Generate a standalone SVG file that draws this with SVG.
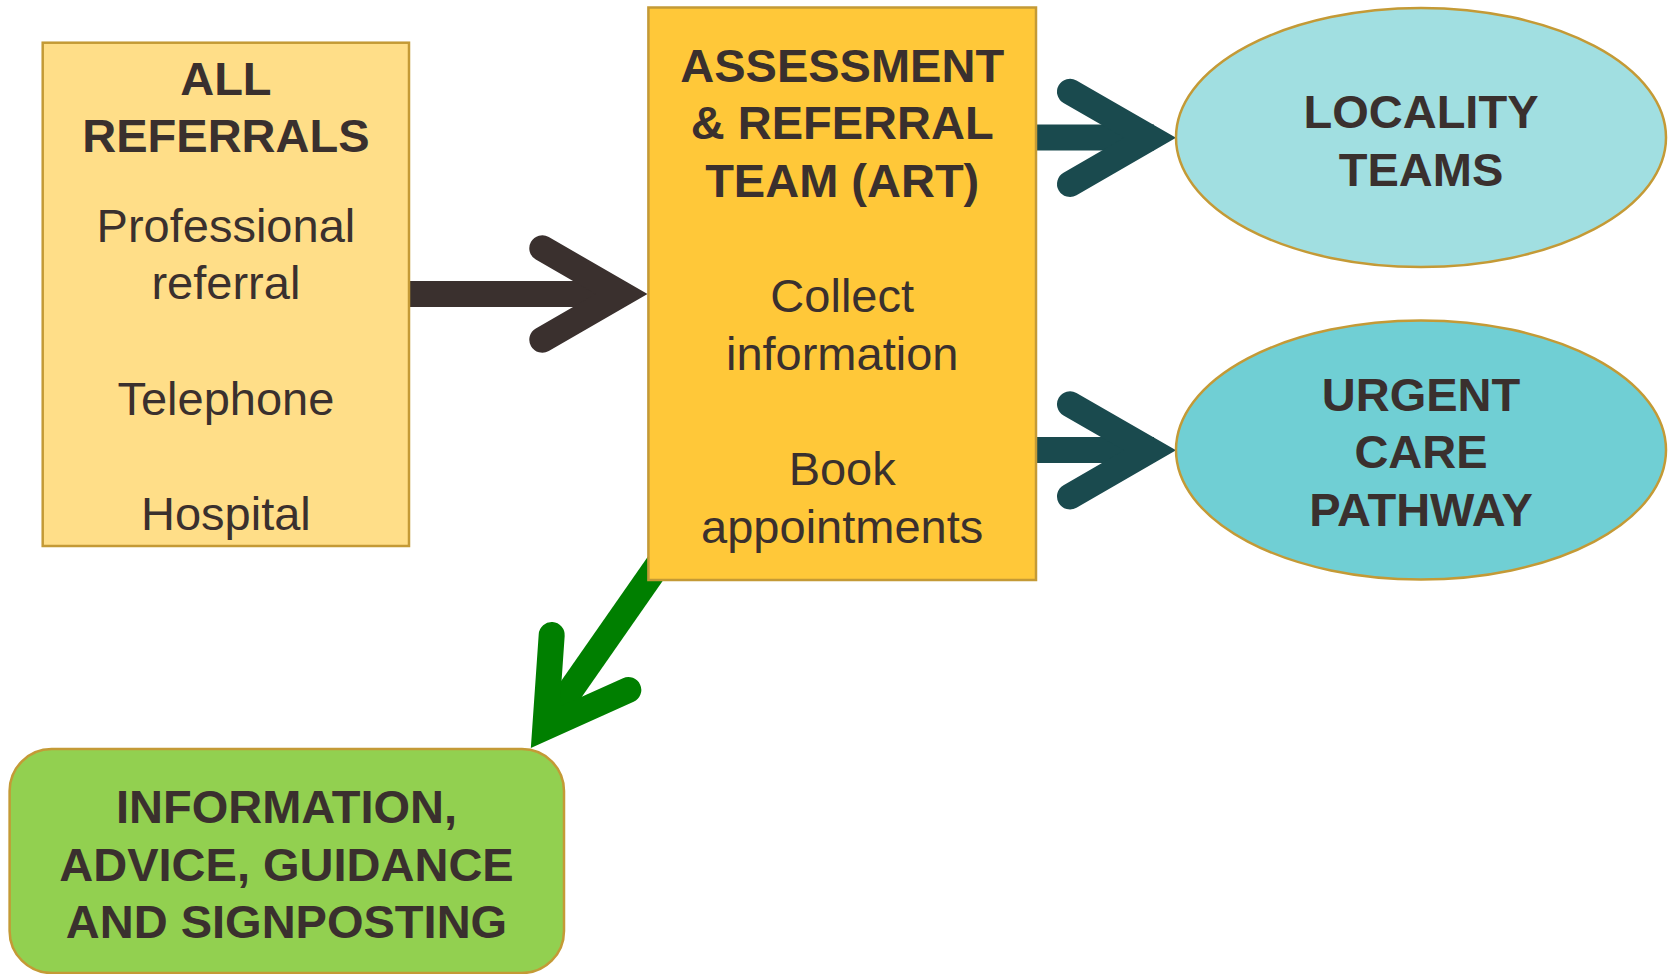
<svg xmlns="http://www.w3.org/2000/svg" width="1675" height="974" viewBox="0 0 1675 974">
  <style>
    .node-stroke { stroke: #C49A36; stroke-width: 2.5; }
    .t { font-family: "Liberation Sans", Arial, sans-serif; font-size: 47px; fill: #3A302E; text-anchor: middle; }
    .b { font-weight: bold; }
    .shaft { fill: none; stroke-linecap: butt; stroke-width: 26; }
    .head { fill: none; stroke-linecap: round; stroke-linejoin: miter; stroke-miterlimit: 10; stroke-width: 26; }
  </style>
  <rect width="1675" height="974" fill="#FFFFFF"/>

  <!-- connectors (drawn first so node outlines sit on top) -->
  <g id="connectors">
    <g id="referrals-to-art" stroke="#3A302E">
      <line class="shaft" x1="409" y1="294" x2="625" y2="294"/>
      <polyline class="head" points="542.3,248.3 621.5,294 542.3,339.7"/>
    </g>
    <g id="art-to-locality" stroke="#1A4A4E">
      <line class="shaft" x1="1036" y1="137.5" x2="1154" y2="137.5"/>
      <polyline class="head" points="1070,91.7 1150,137.8 1070,184"/>
    </g>
    <g id="art-to-urgent" stroke="#1A4A4E">
      <line class="shaft" x1="1036" y1="450" x2="1154" y2="450"/>
      <polyline class="head" points="1070,404.2 1150,450.3 1070,496.4"/>
    </g>
    <g id="art-to-information" stroke="#007F00">
      <line class="shaft" x1="660" y1="562" x2="547" y2="724"/>
      <polyline class="head" points="551.7,635 545.3,727.3 628.3,690"/>
    </g>
  </g>

  <g id="all-referrals">
    <rect class="node-stroke" x="42.7" y="42.7" width="366.3" height="503.3" fill="#FFDE88"/>
    <text class="t b" x="225.9" y="95">ALL</text>
    <text class="t b" x="225.9" y="151.7">REFERRALS</text>
    <text class="t" x="225.9" y="242">Professional</text>
    <text class="t" x="225.9" y="298.5">referral</text>
    <text class="t" x="225.9" y="415">Telephone</text>
    <text class="t" x="225.9" y="529.5">Hospital</text>
  </g>

  <g id="art">
    <rect class="node-stroke" x="648.4" y="7.5" width="387.6" height="572.5" fill="#FFC839"/>
    <text class="t b" x="842.2" y="82">ASSESSMENT</text>
    <text class="t b" x="842.2" y="139">&amp; REFERRAL</text>
    <text class="t b" x="842.2" y="196.5">TEAM (ART)</text>
    <text class="t" x="842.2" y="312">Collect</text>
    <text class="t" x="842.2" y="370">information</text>
    <text class="t" x="842.2" y="485">Book</text>
    <text class="t" x="842.2" y="543">appointments</text>
  </g>

  <g id="locality-teams">
    <ellipse class="node-stroke" cx="1421" cy="137.5" rx="245" ry="129.5" fill="#A1DFE1"/>
    <text class="t b" x="1421" y="128">LOCALITY</text>
    <text class="t b" x="1421" y="186">TEAMS</text>
  </g>

  <g id="urgent-care-pathway">
    <ellipse class="node-stroke" cx="1421" cy="450" rx="245" ry="129.5" fill="#70CFD4"/>
    <text class="t b" x="1421" y="411">URGENT</text>
    <text class="t b" x="1421" y="468">CARE</text>
    <text class="t b" x="1421" y="525.5">PATHWAY</text>
  </g>

  <g id="information-advice">
    <rect class="node-stroke" x="9.6" y="749" width="554.4" height="224" rx="42" ry="42" fill="#92D050"/>
    <text class="t b" x="286.5" y="822.5">INFORMATION,</text>
    <text class="t b" x="286.5" y="880.5">ADVICE, GUIDANCE</text>
    <text class="t b" x="286.5" y="937.5">AND SIGNPOSTING</text>
  </g>
</svg>
